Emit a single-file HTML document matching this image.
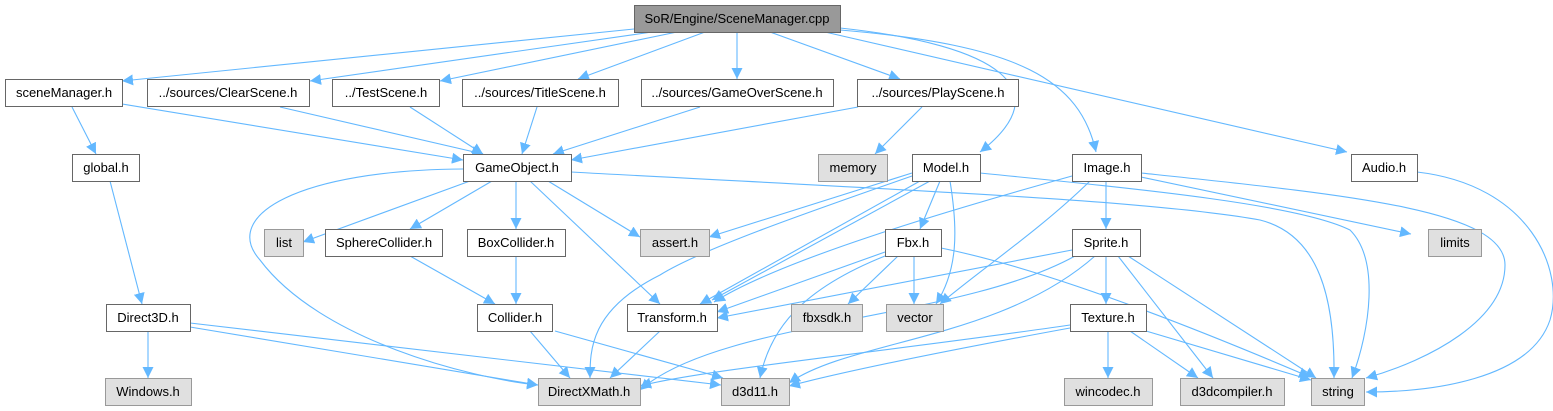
<!DOCTYPE html>
<html><head><meta charset="utf-8"><style>
html,body{margin:0;padding:0;background:#fff;}
svg{display:block;}
text{font-family:"Liberation Sans",Arial,sans-serif;font-size:13px;fill:#000;}
</style></head><body>
<svg width="1553" height="411" viewBox="0 0 1553 411" xmlns="http://www.w3.org/2000/svg">
<defs>
<marker id="a" viewBox="0 0 10 10" refX="10" refY="5" markerWidth="11" markerHeight="11" markerUnits="userSpaceOnUse" orient="auto">
<path d="M0,0 L10,5 L0,10 z" fill="#63b8ff"/></marker>
</defs>
<g fill="none" stroke="#63b8ff" stroke-width="1.1" marker-end="url(#a)">
<path d="M634,29 L122,81"/>
<path d="M652,32 L310,81"/>
<path d="M677,32 L440,81"/>
<path d="M705,32 L578,79"/>
<path d="M737,32 L737,79"/>
<path d="M770,32 L900,79"/>
<path d="M840,28 C1000,45 1060,90 980,152"/>
<path d="M840,30 C1020,45 1080,80 1096,152"/>
<path d="M825,32 L1347,152"/>
<path d="M72,107 L96,154"/>
<path d="M122,104 L463,160"/>
<path d="M280,107 L483,154"/>
<path d="M410,107 L483,154"/>
<path d="M537,107 L522,154"/>
<path d="M700,107 L553,154"/>
<path d="M858,107 L571,160"/>
<path d="M922,107 L875,154"/>
<path d="M110,181 L142,304"/>
<path d="M463,169 C300,170 220,215 260,260 C320,340 470,378 538,385"/>
<path d="M470,181 L303,242"/>
<path d="M492,181 L410,229"/>
<path d="M516,181 L516,229"/>
<path d="M530,181 L660,304"/>
<path d="M548,181 L640,237"/>
<path d="M571,172 C900,190 1150,200 1260,220 C1320,235 1335,300 1334,378"/>
<path d="M912,173 L709,237"/>
<path d="M912,176 C800,215 700,250 660,275 C590,310 590,350 590,378"/>
<path d="M920,181 L700,304"/>
<path d="M930,181 L712,300"/>
<path d="M940,181 L920,229"/>
<path d="M950,181 C958,230 958,270 936,304"/>
<path d="M980,173 C1150,190 1300,205 1350,230 C1380,260 1370,330 1352,378"/>
<path d="M1072,176 C950,210 780,260 714,302"/>
<path d="M1090,181 C1040,230 980,270 940,304"/>
<path d="M1106,181 L1106,229"/>
<path d="M1141,177 L1411,234"/>
<path d="M1141,173 C1350,195 1505,210 1505,265 C1505,320 1430,360 1366,378"/>
<path d="M1417,172 C1530,185 1565,270 1550,320 C1530,380 1430,392 1366,392"/>
<path d="M885,252 L717,312"/>
<path d="M885,256 C800,290 770,330 760,378"/>
<path d="M898,256 L848,304"/>
<path d="M914,256 L914,304"/>
<path d="M941,248 C1050,270 1200,330 1310,377"/>
<path d="M1072,250 L717,318"/>
<path d="M1075,256 C960,320 720,320 640,390"/>
<path d="M1095,256 C1000,340 850,340 789,383"/>
<path d="M1106,256 L1106,304"/>
<path d="M1118,256 L1213,378"/>
<path d="M1128,256 L1316,378"/>
<path d="M1070,325 C900,350 700,370 640,386"/>
<path d="M1070,328 C950,350 850,370 789,386"/>
<path d="M1108,331 L1108,378"/>
<path d="M1130,331 L1198,378"/>
<path d="M1146,331 L1311,380"/>
<path d="M410,256 L495,304"/>
<path d="M516,256 L516,304"/>
<path d="M530,331 L570,378"/>
<path d="M555,331 L723,378"/>
<path d="M660,331 L610,378"/>
<path d="M148,331 L148,378"/>
<path d="M190,327 L538,385"/>
<path d="M190,323 L721,385"/>
</g>
<g stroke-width="1">
<rect x="634.5" y="5.5" width="206" height="27" fill="#999" stroke="#666"/>
<g fill="#fff" stroke="#666">
<rect x="5.5" y="79.5" width="117" height="27"/>
<rect x="147.5" y="79.5" width="162" height="27"/>
<rect x="332.5" y="79.5" width="107" height="27"/>
<rect x="462.5" y="79.5" width="156" height="27"/>
<rect x="641.5" y="79.5" width="192" height="27"/>
<rect x="857.5" y="79.5" width="161" height="27"/>
<rect x="72.5" y="154.5" width="67" height="27"/>
<rect x="463.5" y="154.5" width="108" height="27"/>
<rect x="912.5" y="154.5" width="68" height="27"/>
<rect x="1072.5" y="154.5" width="69" height="27"/>
<rect x="1351.5" y="154.5" width="66" height="27"/>
<rect x="325.5" y="229.5" width="117" height="27"/>
<rect x="467.5" y="229.5" width="98" height="27"/>
<rect x="885.5" y="229.5" width="56" height="27"/>
<rect x="1072.5" y="229.5" width="68" height="27"/>
<rect x="106.5" y="304.5" width="84" height="27"/>
<rect x="477.5" y="304.5" width="75" height="27"/>
<rect x="627.5" y="304.5" width="90" height="27"/>
<rect x="1070.5" y="304.5" width="76" height="27"/>
</g>
<g fill="#e0e0e0" stroke="#999">
<rect x="818.5" y="154.5" width="69" height="27"/>
<rect x="264.5" y="229.5" width="39" height="27"/>
<rect x="640.5" y="229.5" width="69" height="27"/>
<rect x="1428.5" y="229.5" width="53" height="27"/>
<rect x="791.5" y="304.5" width="71" height="27"/>
<rect x="886.5" y="304.5" width="57" height="27"/>
<rect x="105.5" y="378.5" width="86" height="27"/>
<rect x="538.5" y="378.5" width="102" height="27"/>
<rect x="721.5" y="378.5" width="68" height="27"/>
<rect x="1064.5" y="378.5" width="88" height="27"/>
<rect x="1180.5" y="378.5" width="104" height="27"/>
<rect x="1311.5" y="378.5" width="53" height="27"/>
</g>
</g>
<g text-anchor="middle">
<text x="737" y="23">SoR/Engine/SceneManager.cpp</text>
<text x="64" y="97">sceneManager.h</text>
<text x="228" y="97">../sources/ClearScene.h</text>
<text x="386" y="97">../TestScene.h</text>
<text x="540" y="97">../sources/TitleScene.h</text>
<text x="737" y="97">../sources/GameOverScene.h</text>
<text x="938" y="97">../sources/PlayScene.h</text>
<text x="106" y="172">global.h</text>
<text x="517" y="172">GameObject.h</text>
<text x="853" y="172">memory</text>
<text x="946" y="172">Model.h</text>
<text x="1107" y="172">Image.h</text>
<text x="1384" y="172">Audio.h</text>
<text x="284" y="247">list</text>
<text x="384" y="247">SphereCollider.h</text>
<text x="516" y="247">BoxCollider.h</text>
<text x="675" y="247">assert.h</text>
<text x="913" y="247">Fbx.h</text>
<text x="1106" y="247">Sprite.h</text>
<text x="1455" y="247">limits</text>
<text x="148" y="322">Direct3D.h</text>
<text x="515" y="322">Collider.h</text>
<text x="672" y="322">Transform.h</text>
<text x="827" y="322">fbxsdk.h</text>
<text x="915" y="322">vector</text>
<text x="1108" y="322">Texture.h</text>
<text x="148" y="396">Windows.h</text>
<text x="589" y="396">DirectXMath.h</text>
<text x="755" y="396">d3d11.h</text>
<text x="1108" y="396">wincodec.h</text>
<text x="1232" y="396">d3dcompiler.h</text>
<text x="1338" y="396">string</text>
</g>
</svg>
</body></html>
